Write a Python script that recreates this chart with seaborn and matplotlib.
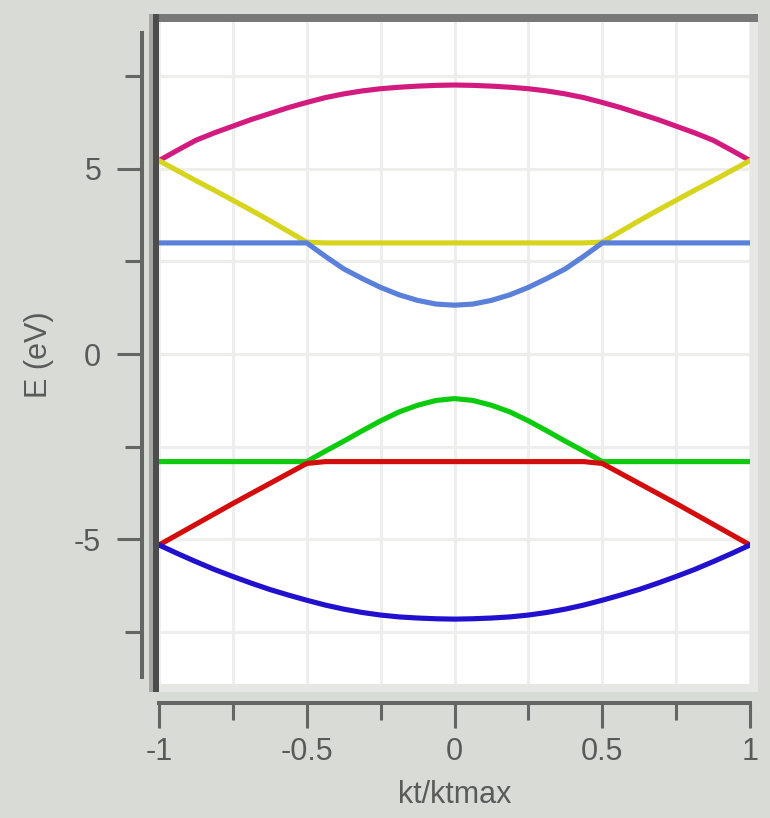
import matplotlib
matplotlib.use("Agg")
import matplotlib.pyplot as plt
from matplotlib.patches import Rectangle
from matplotlib.ticker import MultipleLocator
import seaborn as sns

sns.set_style("white")
plt.rcParams['font.family'] = ['Liberation Sans', 'DejaVu Sans']
plt.rcParams['axes.unicode_minus'] = False

# Data (k points and band energies in eV)
kt = [-1, -0.9375, -0.875, -0.8125, -0.75, -0.6875, -0.625, -0.5625, -0.5,
      -0.4375, -0.375, -0.3125, -0.25, -0.1875, -0.125, -0.0625, 0,
      0.0625, 0.125, 0.1875, 0.25, 0.3125, 0.375, 0.4375, 0.5,
      0.5625, 0.625, 0.6875, 0.75, 0.8125, 0.875, 0.9375, 1]
band_magenta = [5.22, 5.5, 5.77, 5.97, 6.15, 6.33, 6.49, 6.65, 6.79,
                6.92, 7.02, 7.1, 7.16, 7.2, 7.23, 7.25, 7.26,
                7.25, 7.23, 7.2, 7.16, 7.1, 7.02, 6.92, 6.79,
                6.65, 6.49, 6.33, 6.15, 5.97, 5.77, 5.5, 5.22]
band_yellow = [5.22, 4.95, 4.68, 4.42, 4.15, 3.88, 3.6, 3.31, 3.02,
               3.0, 3.0, 3.0, 3.0, 3.0, 3.0, 3.0, 3.0,
               3.0, 3.0, 3.0, 3.0, 3.0, 3.0, 3.0, 3.02,
               3.31, 3.6, 3.88, 4.15, 4.42, 4.68, 4.95, 5.22]
band_blue = [3.0, 3.0, 3.0, 3.0, 3.0, 3.0, 3.0, 3.0, 3.0,
             2.64, 2.3, 2.04, 1.8, 1.6, 1.45, 1.35, 1.32,
             1.35, 1.45, 1.6, 1.8, 2.04, 2.3, 2.64, 3.0,
             3.0, 3.0, 3.0, 3.0, 3.0, 3.0, 3.0, 3.0]
band_green = [-2.9, -2.9, -2.9, -2.9, -2.9, -2.9, -2.9, -2.9, -2.9,
              -2.62, -2.35, -2.07, -1.8, -1.56, -1.38, -1.25, -1.2,
              -1.25, -1.38, -1.56, -1.8, -2.07, -2.35, -2.62, -2.9,
              -2.9, -2.9, -2.9, -2.9, -2.9, -2.9, -2.9, -2.9]
band_red = [-5.15, -4.87, -4.59, -4.31, -4.03, -3.76, -3.49, -3.22, -2.95,
            -2.9, -2.9, -2.9, -2.9, -2.9, -2.9, -2.9, -2.9,
            -2.9, -2.9, -2.9, -2.9, -2.9, -2.9, -2.9, -2.95,
            -3.22, -3.49, -3.76, -4.03, -4.31, -4.59, -4.87, -5.15]
band_navy = [-5.15, -5.38, -5.6, -5.81, -6.0, -6.18, -6.35, -6.5, -6.64,
             -6.77, -6.88, -6.97, -7.04, -7.09, -7.12, -7.14, -7.15,
             -7.14, -7.12, -7.09, -7.04, -6.97, -6.88, -6.77, -6.64,
             -6.5, -6.35, -6.18, -6.0, -5.81, -5.6, -5.38, -5.15]

x_ticks = [-1, -0.5, 0, 0.5, 1]
x_tick_labels = ['-1', '-0.5', '0', '0.5', '1']
y_ticks = [-5, 0, 5]
y_tick_labels = ['-5', '0', '5']

bands = [
    (band_magenta, '#d31a7e'),
    (band_yellow, '#d6d41c'),
    (band_blue, '#5a80da'),
    (band_green, '#0ccb0c'),
    (band_red, '#d30d0d'),
    (band_navy, '#2210cf'),
]

W, H = 770, 818
fig = plt.figure(figsize=(W / 100, H / 100), dpi=100, facecolor='#d9dbd6')


def px_rect(x0, y0, x1, y1):
    return [x0 / W, 1 - y1 / H, (x1 - x0) / W, (y1 - y0) / H]


# bevelled frame around the plot area
frame = [((149, 14, 758, 692), '#e7e8e5'),
         ((149, 14, 758, 22), '#777877'),
         ((149, 14, 153, 692), '#a6a7a5'),
         ((153, 14, 159, 692), '#4b4c4b')]
for (x0, y0, x1, y1), c in frame:
    r = px_rect(x0, y0, x1, y1)
    fig.add_artist(Rectangle((r[0], r[1]), r[2], r[3], transform=fig.transFigure,
                             color=c, lw=0, zorder=-1))

ax = fig.add_axes(px_rect(159, 22, 750, 684))
ax.set_facecolor('white')

for vals, col in bands:
    sns.lineplot(x=kt, y=vals, color=col, lw=3.7, ax=ax, zorder=3)

ax.set_xlim(-1, 1)
ax.set_ylim(-8.9, 8.96)
ax.set_xticks(x_ticks)
ax.set_xticklabels(x_tick_labels)
ax.set_yticks(y_ticks)
ax.set_yticklabels(y_tick_labels)
ax.xaxis.set_minor_locator(MultipleLocator(0.25))
ax.yaxis.set_minor_locator(MultipleLocator(2.5))
ax.grid(which='both', color='#eeeeec', lw=2.2, zorder=0)
ax.set_axisbelow(True)

for s in ['top', 'right']:
    ax.spines[s].set_visible(False)
ax.spines['left'].set_position(('outward', 12.6))
ax.spines['left'].set_bounds(-8.7, 8.65)
ax.spines['bottom'].set_position(('outward', 14))
ax.spines['bottom'].set_bounds(-1, 1)
for s in ['left', 'bottom']:
    ax.spines[s].set_color('#656565')
    ax.spines[s].set_linewidth(2.9)

ax.tick_params(which='both', bottom=True, left=True, direction='out',
               color='#656565', width=2.2, labelsize=22, labelcolor='#5a5a5a')
ax.tick_params(which='major', length=18)
ax.tick_params(which='minor', length=12)
ax.tick_params(axis='y', pad=11)
ax.tick_params(axis='x', pad=6)

fig.text(455 / W, 1 - 795 / H, 'kt/ktmax', ha='center', va='center',
         fontsize=22, color='#5a5a5a')
fig.text(39 / W, 1 - 355 / H, 'E (eV)', ha='center', va='center',
         rotation=90, fontsize=22, color='#5a5a5a')

fig.savefig('out.png', dpi=100, facecolor=fig.get_facecolor())
